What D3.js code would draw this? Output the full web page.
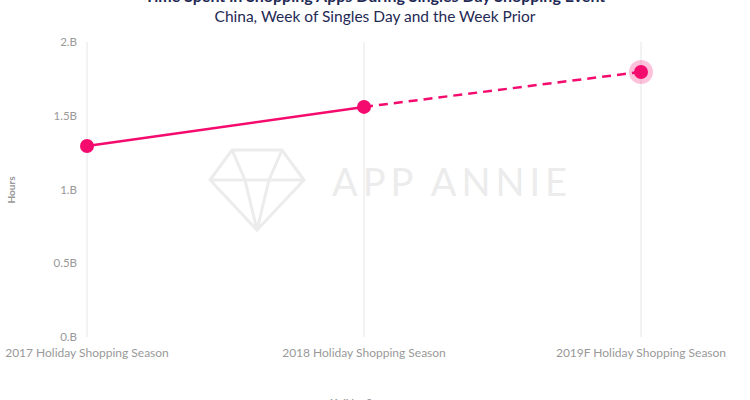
<!DOCTYPE html>
<html><head><meta charset="utf-8">
<script src="https://cdn.jsdelivr.net/npm/d3@7"></script>
<style>body{margin:0;background:#fff}svg{display:block;font-family:Lato,"Open Sans",sans-serif}</style>
</head><body><svg id="c" width="750" height="400"></svg>
<script>
const categories=["2017 Holiday Shopping Season","2018 Holiday Shopping Season","2019F Holiday Shopping Season"];
const values=[1.295,1.56,1.797];
const yTicks=[0,0.5,1,1.5,2];
const yTickLabels=["0.B","0.5B","1.B","1.5B","2.B"];
const svg=d3.select("#c");
const x=d3.scalePoint().domain(categories).range([87,641]);
const y=d3.scaleLinear().domain([0,2]).range([337,42]);
const pink="#f50a6e";
svg.append("text").attr("x",452).attr("y",196).attr("text-anchor","middle").attr("font-size",38).attr("letter-spacing",5).attr("fill","#ececec").text("APP ANNIE");
svg.append("path").attr("d","M210,180 L232,150 L282,150 L304,180 L257,230 Z M210,180 L304,180 M232,150 L245,180 L257,230 L269,180 L282,150").attr("fill","none").attr("stroke","#ececec").attr("stroke-width",3);
svg.append("g").selectAll("line").data(categories).join("line")
 .attr("x1",d=>x(d)).attr("x2",d=>x(d)).attr("y1",y(2)).attr("y2",y(0)).attr("stroke","#e6e6e6");
svg.append("g").selectAll("text").data(yTicks).join("text")
 .attr("x",77).attr("y",d=>y(d)+4).attr("text-anchor","end").attr("font-size",11.5).attr("fill","#999").text((d,i)=>yTickLabels[i]);
svg.append("g").selectAll("text").data(categories).join("text")
 .attr("x",d=>x(d)).attr("y",357).attr("text-anchor","middle").attr("font-size",12).attr("fill","#999").text(d=>d);
svg.append("text").attr("transform","translate(15,190) rotate(-90)").attr("text-anchor","middle").attr("font-size",10).attr("font-weight","bold").attr("fill","#999").text("Hours");
svg.append("text").attr("x",364).attr("y",406).attr("text-anchor","middle").attr("font-size",10).attr("font-weight","bold").attr("fill","#999").text("Holiday Season");
svg.append("text").attr("x",375).attr("y",2).attr("text-anchor","middle").attr("font-size",16).attr("font-weight","bold").attr("fill","#1f2a55").text("Time Spent in Shopping Apps During Singles Day Shopping Event");
svg.append("text").attr("x",375).attr("y",22).attr("text-anchor","middle").attr("font-size",15.5).attr("fill","#1f2a55").text("China, Week of Singles Day and the Week Prior");
const line=d3.line().x((d,i)=>x(categories[i])).y(d=>y(d));
svg.append("path").attr("d",line(values.slice(0,2))).attr("fill","none").attr("stroke",pink).attr("stroke-width",2.5);
svg.append("path").attr("d",d3.line().x((d,i)=>x(categories[i+1])).y(d=>y(d))(values.slice(1))).attr("fill","none").attr("stroke",pink).attr("stroke-width",2.5).attr("stroke-dasharray","9,6");
svg.append("circle").attr("cx",x(categories[2])).attr("cy",y(values[2])).attr("r",12).attr("fill",pink).attr("opacity",0.25);
svg.append("g").selectAll("circle").data(values).join("circle")
 .attr("cx",(d,i)=>x(categories[i])).attr("cy",d=>y(d)).attr("r",7).attr("fill",pink);
</script></body></html>
